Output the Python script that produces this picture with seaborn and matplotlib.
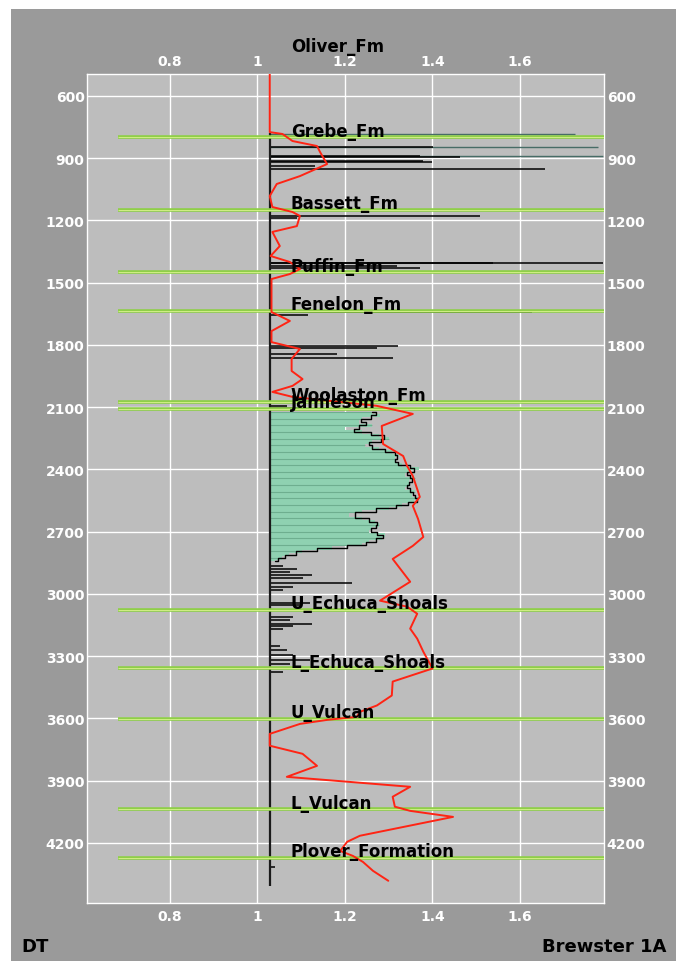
"""
Well log panel: DT ratio vs depth with formation tops (Brewster 1A).
"""
import pandas as pd
import matplotlib
matplotlib.use("Agg")
import matplotlib.pyplot as plt
from matplotlib.patches import Rectangle
import seaborn as sns

BASELINE = 1.028

# formation tops (m)
FORMATIONS = ["Oliver_Fm", "Grebe_Fm", "Bassett_Fm", "Puffin_Fm", "Fenelon_Fm",
              "Woolaston_Fm", "Jamieson", "U_Echuca_Shoals", "L_Echuca_Shoals",
              "U_Vulcan", "L_Vulcan", "Plover_Formation"]
FORMATION_TOPS = [392, 800, 1149, 1451, 1636, 2075, 2109, 3076, 3358,
                  3602, 4039, 4271]

# red trend curve
TREND_DEPTH = [495, 775, 784, 818, 842, 871, 929, 987, 1025, 1083, 1136, 1160,
               1179, 1228, 1256, 1324, 1372, 1401, 1435, 1459, 1483, 1642, 1685,
               1734, 1787, 1820, 1868, 1926, 1965, 1998, 2027, 2051, 2094, 2133,
               2191, 2278, 2336, 2384, 2432, 2495, 2533, 2576, 2639, 2726, 2769,
               2832, 2942, 3033, 3062, 3096, 3168, 3216, 3279, 3360, 3423, 3490,
               3538, 3569, 3593, 3607, 3627, 3675, 3732, 3771, 3829, 3882, 3930,
               3978, 4026, 4046, 4075, 4166, 4195, 4239, 4263, 4292, 4335, 4383]
TREND_VALUE = [1.028, 1.028, 1.057, 1.080, 1.136, 1.143, 1.159, 1.097, 1.044,
               1.028, 1.034, 1.080, 1.097, 1.090, 1.034, 1.051, 1.030, 1.074,
               1.097, 1.074, 1.032, 1.032, 1.074, 1.032, 1.032, 1.097, 1.078,
               1.078, 1.103, 1.080, 1.034, 1.080, 1.272, 1.355, 1.284, 1.287,
               1.333, 1.342, 1.355, 1.365, 1.371, 1.355, 1.367, 1.379, 1.355,
               1.309, 1.349, 1.280, 1.342, 1.365, 1.349, 1.365, 1.379, 1.400,
               1.309, 1.307, 1.273, 1.234, 1.227, 1.161, 1.097, 1.028, 1.028,
               1.103, 1.136, 1.067, 1.349, 1.309, 1.314, 1.349, 1.447, 1.234,
               1.205, 1.189, 1.218, 1.241, 1.264, 1.299]

# isolated black spikes of the log
SPIKE_DEPTH = [849, 892, 897, 913, 921, 937, 953, 1178, 1191, 1406, 1406, 1419,
               1431, 1640, 1656, 1804, 1817, 1844, 1865, 2093, 2103, 2864, 2880,
               2896, 2909, 2925, 2947, 2968, 2984, 3043, 3056, 3112, 3128, 3145,
               3156, 3169, 3252, 3273, 3297, 3321, 3337, 3377, 4315]
SPIKE_VALUE = [1.401, 1.371, 1.463, 1.378, 1.400, 1.131, 1.657, 1.509, 1.090,
               1.790, 1.538, 1.318, 1.371, 1.627, 1.116, 1.322, 1.273, 1.181,
               1.310, 1.067, 1.100, 1.058, 1.090, 1.074, 1.124, 1.104, 1.215,
               1.081, 1.058, 1.120, 1.097, 1.081, 1.074, 1.124, 1.081, 1.058,
               1.051, 1.067, 1.081, 1.120, 1.074, 1.058, 1.040]

# long faint spikes below Grebe
FAINT_DEPTH = [784, 849, 892]
FAINT_VALUE = [1.726, 1.778, 1.790]

# dense filled section (Jamieson to ~2850 m)
FILL_DEPTH = [2124, 2140, 2156, 2172, 2188, 2204, 2220, 2236, 2252, 2268, 2284,
              2300, 2316, 2332, 2348, 2364, 2380, 2396, 2412, 2428, 2444, 2460,
              2476, 2492, 2508, 2524, 2540, 2556, 2572, 2588, 2604, 2620, 2636,
              2652, 2668, 2684, 2700, 2716, 2732, 2748, 2764, 2780, 2796, 2812,
              2828, 2844]
FILL_VALUE = [1.262, 1.280, 1.239, 1.232, 1.262, 1.200, 1.239, 1.278, 1.301,
              1.262, 1.246, 1.278, 1.307, 1.323, 1.314, 1.314, 1.330, 1.369,
              1.346, 1.337, 1.360, 1.346, 1.346, 1.337, 1.360, 1.353, 1.369,
              1.358, 1.330, 1.301, 1.239, 1.209, 1.239, 1.269, 1.278, 1.262,
              1.255, 1.291, 1.285, 1.255, 1.239, 1.170, 1.102, 1.072, 1.056,
              1.040]

LOG_TOP, LOG_BOTTOM = 780, 4407
YTICKS = [600, 900, 1200, 1500, 1800, 2100, 2400, 2700, 3000, 3300, 3600, 3900, 4200]
XTICKS = [0.8, 1.0, 1.2, 1.4, 1.6]
XTICK_LABELS = ["0.8", "1", "1.2", "1.4", "1.6"]

W, H = 676, 962


def main():
    sns.set_style("white")
    plt.rcParams["font.family"] = ["DejaVu Sans"]

    fig = plt.figure(figsize=(W / 100, H / 100), dpi=100)
    fig.patch.set_facecolor("white")
    panel = Rectangle((11 / W, 0), (W - 11) / W, (H - 10) / H,
                      transform=fig.transFigure, facecolor="#9a9a9a",
                      edgecolor="none", zorder=-10)
    fig.add_artist(panel)

    ax = fig.add_axes([87.3 / W, 1 - 904 / H, (604 - 87.3) / W, (904 - 75) / H])
    ax.set_zorder(5)
    ax.set_facecolor("#bdbdbd")

    # filled section of the log
    ax.fill_betweenx(FILL_DEPTH, BASELINE, FILL_VALUE, step="mid",
                     color="#8fd1b1", lw=0, zorder=2)
    ax.hlines(FILL_DEPTH[::2], BASELINE, FILL_VALUE[::2], color="#3d7a5c",
              lw=0.8, alpha=0.4, zorder=2.1)
    ax.plot(FILL_VALUE, FILL_DEPTH, drawstyle="steps-mid", color="black",
            lw=1.0, zorder=2.2)

    # spikes + baseline
    ax.hlines(FAINT_DEPTH, BASELINE, FAINT_VALUE, color="#476c66", lw=1.0, zorder=2)
    ax.hlines(SPIKE_DEPTH, BASELINE, SPIKE_VALUE, color="black", lw=1.1, zorder=2.3)
    ax.vlines(BASELINE, LOG_TOP, LOG_BOTTOM, color="#1a1a1a", lw=1.6, zorder=2.4)

    # formation tops
    ax.hlines(FORMATION_TOPS, 0.682, 1.792, color="#8fcf48", lw=2.6, zorder=3)
    ax.hlines(FORMATION_TOPS, 0.682, 1.792, color="#d2ee86", lw=0.7, zorder=3.1)

    # red trend
    trend = pd.DataFrame({"value": TREND_VALUE, "depth": TREND_DEPTH})
    sns.lineplot(data=trend, x="value", y="depth", sort=False, orient="y",
                 estimator=None, color="#ff2414", lw=1.4, ax=ax, zorder=4)

    for name, top in zip(FORMATIONS, FORMATION_TOPS):
        ax.text(1.076, top - 7, name, ha="left", va="baseline", fontsize=12,
                fontweight="bold", color="black", clip_on=False, zorder=6)

    ax.set_xlim(0.611, 1.792)
    ax.set_ylim(4490, 495)
    ax.set_xlabel("")
    ax.set_ylabel("")
    ax.set_xticks(XTICKS)
    ax.set_xticklabels(XTICK_LABELS)
    ax.set_yticks(YTICKS)
    ax.set_axisbelow(True)
    ax.grid(True, color="white", lw=1.0)
    ax.tick_params(axis="x", top=True, labeltop=True, bottom=True, labelbottom=True,
                   length=0, labelsize=10, labelcolor="white", pad=4)
    ax.tick_params(axis="y", left=True, labelleft=True, right=True, labelright=True,
                   length=0, labelsize=10, labelcolor="white", pad=2)
    for lab in ax.get_xticklabels() + ax.get_yticklabels():
        lab.set_fontweight("bold")
    for sp in ax.spines.values():
        sp.set_color("white")
        sp.set_linewidth(1.0)

    fig.text(21.5 / W, 1 - 952 / H, "DT", fontsize=13, fontweight="bold",
             color="black", ha="left", va="baseline")
    fig.text(666 / W, 1 - 952 / H, "Brewster 1A", fontsize=13, fontweight="bold",
             color="black", ha="right", va="baseline")

    fig.savefig("out.png", dpi=100)
    plt.close(fig)


if __name__ == "__main__":
    main()
